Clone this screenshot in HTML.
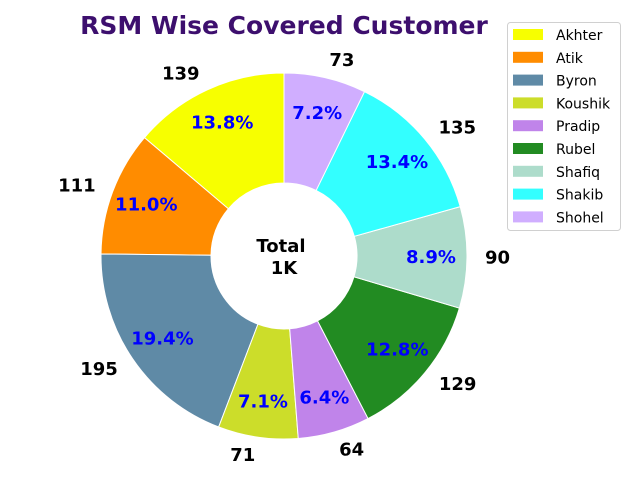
<!DOCTYPE html>
<html><head><meta charset="utf-8"><style>
body{margin:0;background:#fff;}
svg{display:block;font-family:"DejaVu Sans","Liberation Sans",sans-serif;}
</style></head><body>
<svg id="chart" width="640" height="480" viewBox="0 0 640 480">
<text x="284" y="34" text-anchor="middle" font-size="25" font-weight="bold" fill="#3d0f6e">RSM Wise Covered Customer</text>
<g id="slices"></g>
<text x="281" y="252" text-anchor="middle" font-size="18" font-weight="bold">Total</text>
<text x="284" y="274" text-anchor="middle" font-size="18" font-weight="bold">1K</text>
<g id="legend">
<rect x="507.5" y="22.5" width="113" height="208" rx="3" fill="#fff" stroke="#d0d0d0"/>
</g>
</svg>
<script>
const categories=["Akhter","Atik","Byron","Koushik","Pradip","Rubel","Shafiq","Shakib","Shohel"];
const values=[139,111,195,71,64,129,90,135,73];
const colors=["#f7ff00","#ff8c00","#5f8aa6","#ccdd2a","#c084ea","#228b22","#addccb","#33ffff","#d0aeff"];
const NS="http://www.w3.org/2000/svg";
const cx=284,cy=256,R=183,r0=73;
const total=values.reduce((a,b)=>a+b,0);
const g=document.getElementById('slices');
function pt(a,rad){return [cx+rad*Math.cos(a),cy-rad*Math.sin(a)];}
let ang=Math.PI/2;
values.forEach((v,i)=>{
  const sweep=v/total*2*Math.PI, a1=ang+sweep, mid=ang+sweep/2;
  const [x0,y0]=pt(ang,R),[x1,y1]=pt(a1,R),[x2,y2]=pt(a1,r0),[x3,y3]=pt(ang,r0);
  const large=sweep>Math.PI?1:0;
  const p=document.createElementNS(NS,'path');
  p.setAttribute('d',`M${x0},${y0} A${R},${R} 0 ${large} 0 ${x1},${y1} L${x2},${y2} A${r0},${r0} 0 ${large} 1 ${x3},${y3} Z`);
  p.setAttribute('fill',colors[i]);p.setAttribute('stroke','#fff');p.setAttribute('stroke-width','1');
  
  
  g.appendChild(p);
  const [px,py]=pt(mid,147);
  const t=document.createElementNS(NS,'text');
  t.setAttribute('x',px);t.setAttribute('y',py+6);t.setAttribute('text-anchor','middle');
  t.setAttribute('font-size','18');t.setAttribute('font-weight','bold');t.setAttribute('fill','#0000ff');
  t.textContent=(v/total*100).toFixed(1)+'%';
  
  
  g.appendChild(t);
  const [vx,vy]=pt(mid,201);
  const u=document.createElementNS(NS,'text');
  u.setAttribute('x',vx);u.setAttribute('y',vy+6);
  u.setAttribute('text-anchor',vx>=cx?'start':'end');
  u.setAttribute('font-size','18');u.setAttribute('font-weight','bold');u.setAttribute('fill','#000');
  u.textContent=v;
  
  
  g.appendChild(u);
  ang=a1;
});
const lg=document.getElementById('legend');
categories.forEach((c,i)=>{
  const y=35+i*22.8;
  const rc=document.createElementNS(NS,'rect');
  rc.setAttribute('x',513);rc.setAttribute('y',y-6);rc.setAttribute('width',30);rc.setAttribute('height',11);
  rc.setAttribute('fill',colors[i]);
  
  
  lg.appendChild(rc);
  const t=document.createElementNS(NS,'text');
  t.setAttribute('x',556);t.setAttribute('y',y+5);t.setAttribute('font-size','14');
  t.textContent=c;
  
  
  lg.appendChild(t);
});
</script>
</body></html>
